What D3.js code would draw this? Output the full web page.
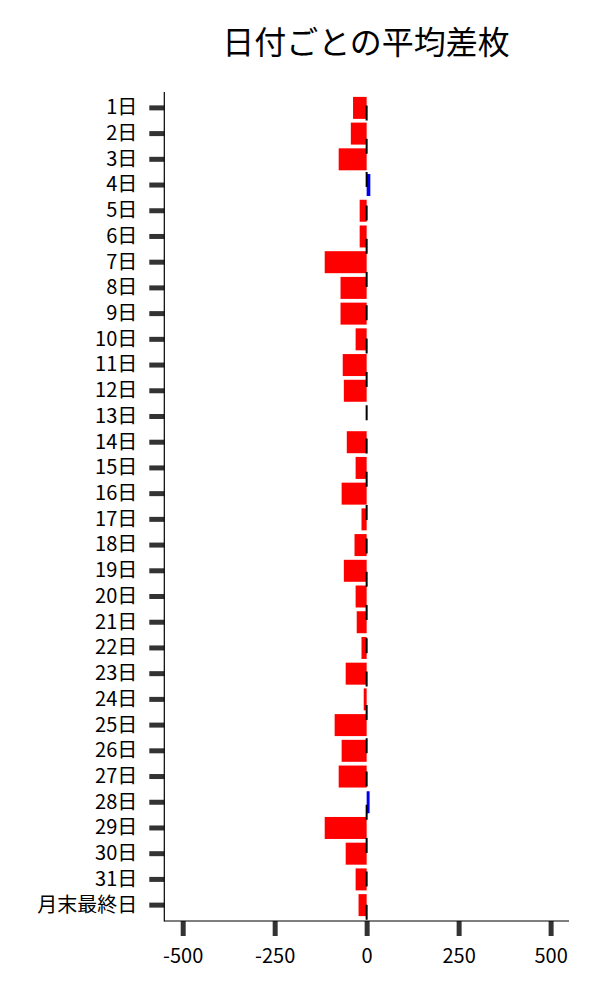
<!DOCTYPE html>
<html>
<head>
<meta charset="utf-8">
<script src="https://cdn.jsdelivr.net/npm/d3@7"></script>
<style>
  html, body { margin: 0; padding: 0; background: #fff; }
  svg { display: block; }
  text { font-family: "Noto Sans CJK JP", "Noto Sans", sans-serif; }
</style>
</head>
<body>
<svg id="chart" width="600" height="1000"></svg>
<script>
const title = "日付ごとの平均差枚";
const categories = ["1日","2日","3日","4日","5日","6日","7日","8日","9日","10日",
  "11日","12日","13日","14日","15日","16日","17日","18日","19日","20日",
  "21日","22日","23日","24日","25日","26日","27日","28日","29日","30日",
  "31日","月末最終日"];
const values = [-37, -43, -76, 10, -19, -19, -114, -71, -71, -30,
  -65, -62, 0, -54, -30, -68, -14, -33, -62, -30,
  -27, -14, -57, -8, -87, -68, -76, 8, -114, -57,
  -30, -22];
const xTicks = [-500, -250, 0, 250, 500];
const xTickLabels = ["-500", "-250", "0", "250", "500"];
const xDomain = [-550, 550];

const svg = d3.select("#chart");
const pLeft = 164.3, pRight = 569, pTop = 92, pBottom = 921;

const x = d3.scaleLinear().domain(xDomain).range([pLeft, pRight]);
const y = d3.scaleBand().domain(categories).range([pTop, pBottom])
  .paddingInner(0.145).paddingOuter(0.19);

// bars
svg.append("g").selectAll("rect").data(categories).join("rect")
  .attr("x", (d, i) => x(Math.min(0, values[i])))
  .attr("width", (d, i) => Math.abs(x(values[i]) - x(0)))
  .attr("y", d => y(d))
  .attr("height", y.bandwidth())
  .attr("fill", (d, i) => values[i] >= 0 ? "#0000ee" : "#ff0000");

// dashed zero line
svg.append("line")
  .attr("x1", x(0)).attr("x2", x(0))
  .attr("y1", 105.5).attr("y2", pBottom)
  .attr("stroke", "#000").attr("stroke-width", 2)
  .attr("stroke-dasharray", "15,18.3");

// y axis
const yAxis = d3.axisLeft(y).tickSize(15).tickPadding(12);
const gy = svg.append("g").attr("transform", `translate(${pLeft},0)`).call(yAxis);
gy.select(".domain").remove();
gy.selectAll(".tick line").attr("stroke", "#333").attr("stroke-width", 5);
gy.selectAll(".tick text").attr("font-size", 20).attr("fill", "#000")
  .style("font-family", '"Noto Sans CJK JP", sans-serif');

// x axis
const xAxis = d3.axisBottom(x).tickValues(xTicks).tickSize(15).tickPadding(13)
  .tickFormat((d, i) => xTickLabels[i]);
const gx = svg.append("g").attr("transform", `translate(0,${pBottom})`).call(xAxis);
gx.select(".domain").remove();
gx.selectAll(".tick line").attr("stroke", "#333").attr("stroke-width", 5);
gx.selectAll(".tick text").attr("font-size", 20).attr("fill", "#000")
  .style("font-family", '"Noto Sans CJK JP", sans-serif');

// spines
svg.append("line").attr("x1", pLeft).attr("x2", pLeft).attr("y1", pTop).attr("y2", pBottom + 0.5)
  .attr("stroke", "#000").attr("stroke-width", 1.2);
svg.append("line").attr("x1", pLeft).attr("x2", pRight).attr("y1", pBottom).attr("y2", pBottom)
  .attr("stroke", "#000").attr("stroke-width", 1.2);

// title
svg.append("text").attr("x", 366).attr("y", 54)
  .attr("text-anchor", "middle").attr("font-size", 32).attr("fill", "#000")
  .text(title);
</script>
</body>
</html>
